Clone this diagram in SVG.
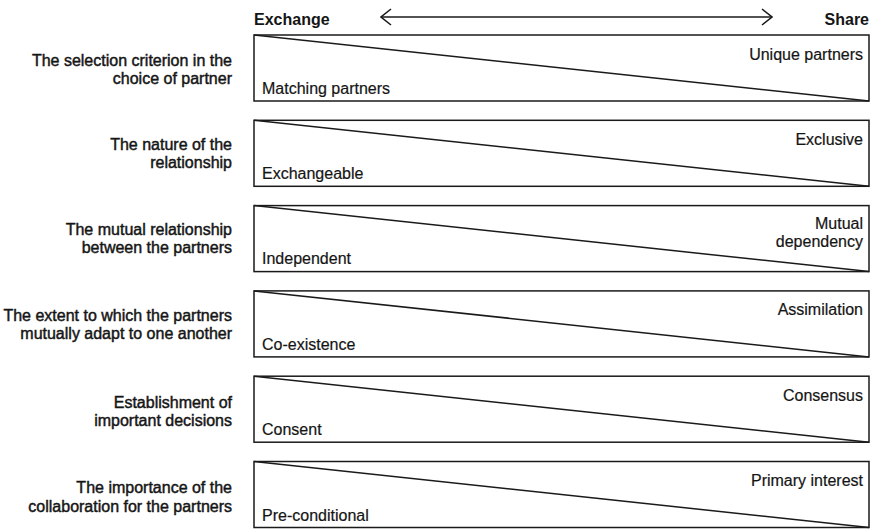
<svg xmlns="http://www.w3.org/2000/svg" width="875" height="530" viewBox="0 0 875 530">
  <style>
    text { font-family: "Liberation Sans", Arial, sans-serif; fill: #151515; }
    .head { font-size: 16px; font-weight: bold; }
    .crit { font-size: 16px; text-anchor: end; stroke: #151515; stroke-width: 0.45; }
    .lo { font-size: 16px; stroke: #151515; stroke-width: 0.2; }
    .hi { font-size: 16px; text-anchor: end; stroke: #151515; stroke-width: 0.2; }
    .box { fill: #fff; stroke: #1a1a1a; stroke-width: 1.5; }
    .diag { stroke: #1a1a1a; stroke-width: 1.5; fill: none; }
    .axis { stroke: #1a1a1a; stroke-width: 1.5; fill: none; }
  </style>
  <defs>
    <marker id="chev" viewBox="0 0 12 18" refX="11" refY="9" markerWidth="12" markerHeight="18" markerUnits="userSpaceOnUse" orient="auto-start-reverse">
      <path d="M1,1 L11,9 L1,17" fill="none" stroke="#1a1a1a" stroke-width="1.6"/>
    </marker>
  </defs>
  <rect width="875" height="530" fill="#fff"/>

  <!-- scale header -->
  <g id="header">
    <text class="head" x="254" y="25">Exchange</text>
    <text class="head" x="869" y="25" text-anchor="end">Share</text>
  </g>
  <g id="connectors">
    <line class="axis" x1="381" y1="17" x2="772" y2="17" marker-start="url(#chev)" marker-end="url(#chev)"/>
  </g>

  <!-- one row per criterion: label, wedge box, pole labels -->
  <g id="row1">
    <text class="crit" x="232" y="66">The selection criterion in the</text>
    <text class="crit" x="232" y="84">choice of partner</text>
    <rect class="box" x="254" y="35" width="615" height="66"/>
    <line class="diag" x1="254" y1="35" x2="869" y2="101"/>
    <text class="hi" x="863" y="59.5">Unique partners</text>
    <text class="lo" x="262" y="94">Matching partners</text>
  </g>
  <g id="row2">
    <text class="crit" x="232" y="150">The nature of the</text>
    <text class="crit" x="232" y="168">relationship</text>
    <rect class="box" x="254" y="120.3" width="615" height="66"/>
    <line class="diag" x1="254" y1="120.3" x2="869" y2="186.3"/>
    <text class="hi" x="863" y="144.8">Exclusive</text>
    <text class="lo" x="262" y="179.3">Exchangeable</text>
  </g>
  <g id="row3">
    <text class="crit" x="232" y="235">The mutual relationship</text>
    <text class="crit" x="232" y="253">between the partners</text>
    <rect class="box" x="254" y="205.6" width="615" height="66"/>
    <line class="diag" x1="254" y1="205.6" x2="869" y2="271.6"/>
    <text class="hi" x="863" y="229">Mutual</text>
    <text class="hi" x="863" y="246.5">dependency</text>
    <text class="lo" x="262" y="264">Independent</text>
  </g>
  <g id="row4">
    <text class="crit" x="232" y="320.5">The extent to which the partners</text>
    <text class="crit" x="232" y="339">mutually adapt to one another</text>
    <rect class="box" x="254" y="290.9" width="615" height="66"/>
    <line class="diag" x1="254" y1="290.9" x2="869" y2="356.9"/>
    <text class="hi" x="863" y="315.4">Assimilation</text>
    <text class="lo" x="262" y="349.9">Co-existence</text>
  </g>
  <g id="row5">
    <text class="crit" x="232" y="407.5">Establishment of</text>
    <text class="crit" x="232" y="425.5">important decisions</text>
    <rect class="box" x="254" y="376.2" width="615" height="66"/>
    <line class="diag" x1="254" y1="376.2" x2="869" y2="442.2"/>
    <text class="hi" x="863" y="400.7">Consensus</text>
    <text class="lo" x="262" y="435.2">Consent</text>
  </g>
  <g id="row6">
    <text class="crit" x="232" y="493">The importance of the</text>
    <text class="crit" x="232" y="511.5">collaboration for the partners</text>
    <rect class="box" x="254" y="461.5" width="615" height="66"/>
    <line class="diag" x1="254" y1="461.5" x2="869" y2="527.5"/>
    <text class="hi" x="863" y="486">Primary interest</text>
    <text class="lo" x="262" y="520.5">Pre-conditional</text>
  </g>
</svg>
